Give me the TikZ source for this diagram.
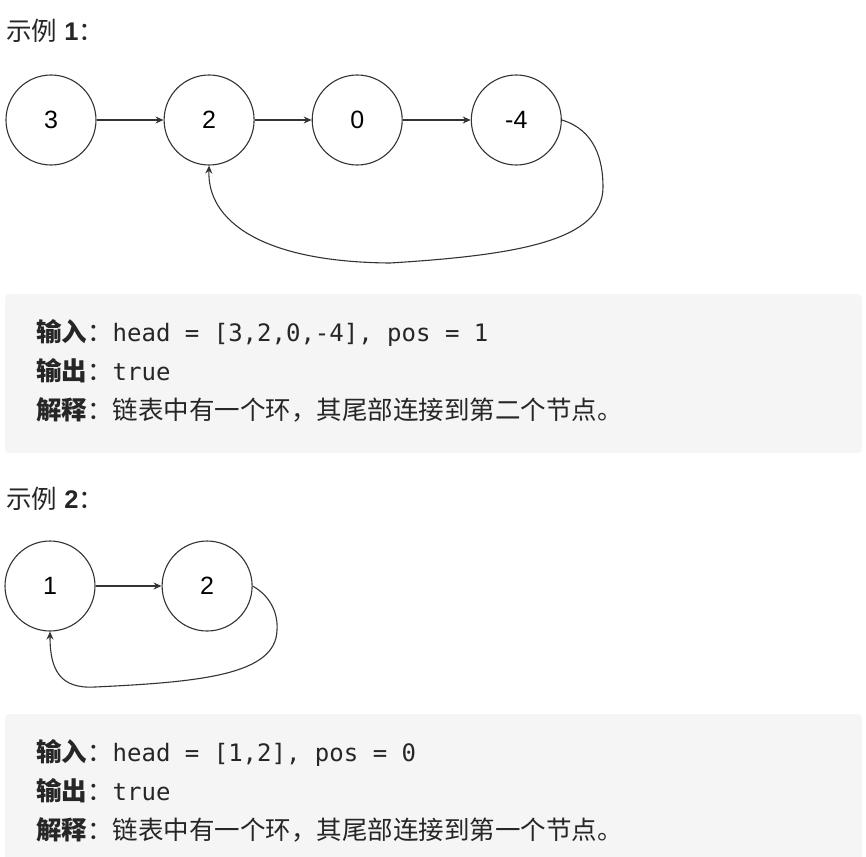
\documentclass[tikz,border=0pt]{standalone}
\usepackage{fontspec}
\setmainfont{Liberation Sans}
\setmonofont{DejaVu Sans Mono}
\newfontfamily\cjk{Noto Sans CJK SC}
\usetikzlibrary{positioning,arrows.meta}
\definecolor{boxgray}{HTML}{F5F5F5}
\definecolor{textgray}{HTML}{262626}
\definecolor{linegray}{HTML}{333333}
\newcommand{\fieldname}[1]{{\cjk\bfseries #1}{\cjk ：}}
\tikzset{
  listnode/.style={circle, draw=linegray, line width=1.1pt, minimum size=90pt,
    inner sep=0pt, font=\fontsize{25}{25}\selectfont},
  nextedge/.style={-{Stealth[length=8pt,width=7pt]}, line width=1.1pt, draw=linegray},
  caption/.style={anchor=base west, inner sep=0pt, text=textgray,
    font=\fontsize{25.5}{25.5}\selectfont},
  infoline/.style={anchor=base west, inner sep=0pt, text=textgray,
    font=\fontsize{25.5}{25.5}\selectfont},
}

\begin{document}
\begin{tikzpicture}[x=1pt, y=-1pt]
  \useasboundingbox (0,0) rectangle (866,856);
  % Example 1
  \node[caption] (title1) at (6,41) {{\cjk 示例} \textbf{1}{\cjk ：}};
  \node[listnode] (a3) at (51,120) {3};
  \node[listnode, right=67pt of a3] (a2) {2};
  \node[listnode, right=57pt of a2] (a0) {0};
  \node[listnode, right=68pt of a0] (am4) {-4};
  \draw[nextedge] (a3) -- (a2);
  \draw[nextedge] (a2) -- (a0);
  \draw[nextedge] (a0) -- (am4);
  \draw[nextedge] (am4.east) .. controls (595,130) and (603,160) .. (603,187)
    .. controls (603,240) and (520,255) .. (390,263)
    .. controls (260,262) and (207,220) .. (a2.south);
  \fill[boxgray, rounded corners=4pt] (5,294) rectangle (862,453);
  \node[infoline] (in1) at (36,341) {\fieldname{输入}\texttt{\fontsize{24}{24}\selectfont head = [3,2,0,-4], pos = 1}};
  \node[infoline] (out1) at (36,380) {\fieldname{输出}\texttt{\fontsize{24}{24}\selectfont true}};
  \node[infoline] (exp1) at (36,419) {\fieldname{解释}{\cjk 链表中有一个环，其尾部连接到第二个节点。}};
  % Example 2
  \node[caption] (title2) at (6,508) {{\cjk 示例} \textbf{2}{\cjk ：}};
  \node[listnode] (b1) at (50,586) {1};
  \node[listnode, right=66pt of b1] (b2) {2};
  \draw[nextedge] (b1) -- (b2);
  \draw[nextedge] (b2.east) .. controls (272,597) and (278,615) .. (277,630)
    .. controls (276,675) and (200,682) .. (95,687)
    .. controls (60,689) and (50,670) .. (b1.south);
  \fill[boxgray, rounded corners=4pt] (5,714) rectangle (862,880);
  \node[infoline] (in2) at (36,761) {\fieldname{输入}\texttt{\fontsize{24}{24}\selectfont head = [1,2], pos = 0}};
  \node[infoline] (out2) at (36,800) {\fieldname{输出}\texttt{\fontsize{24}{24}\selectfont true}};
  \node[infoline] (exp2) at (36,839) {\fieldname{解释}{\cjk 链表中有一个环，其尾部连接到第一个节点。}};
\end{tikzpicture}
\end{document}
